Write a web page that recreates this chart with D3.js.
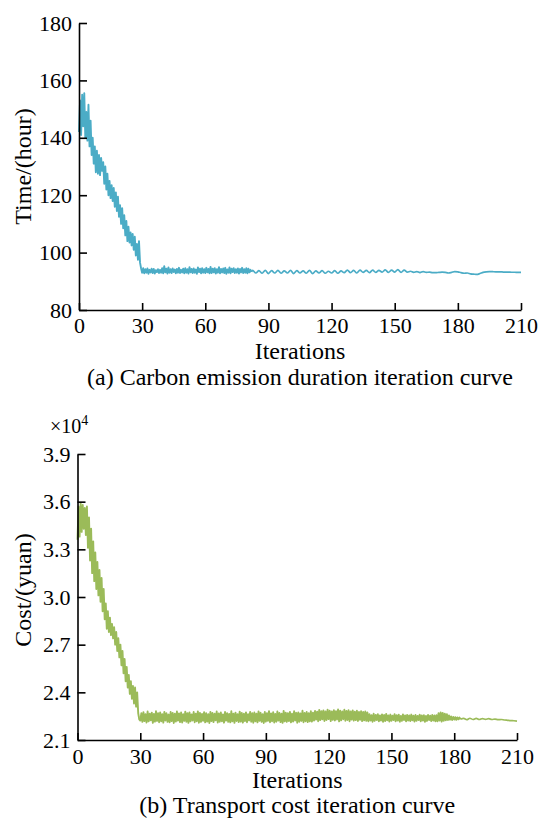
<!DOCTYPE html>
<html>
<head>
<meta charset="utf-8">
<script src="https://cdn.jsdelivr.net/npm/d3@7"></script>
<style>
  html, body { margin: 0; padding: 0; background: #fff; }
  svg { display: block; }
  text { font-family: "Liberation Serif", "Times New Roman", serif; fill: #000; }
</style>
</head>
<body>
<svg id="chart" width="541" height="822"></svg>
<script>
// ---------------- DATA ----------------
const xTicks = [0, 30, 60, 90, 120, 150, 180, 210];
const timeTicks = [80, 100, 120, 140, 160, 180];
const costTicks = [2.1, 2.4, 2.7, 3.0, 3.3, 3.6, 3.9];

// (a) time, hours. Noisy phase sampled every 0.5 iteration from 0 to 82
const timeNoisyStart = 0, timeNoisyStep = 0.5;
const timeNoisy = [
  142, 153, 141, 155, 144, 155.5, 140, 149, 139, 151.5,
  137, 146, 134, 140, 131, 137, 128, 135.5, 127.5, 134,
  127, 133, 128.5, 131.5, 124, 130, 122, 127.5, 120, 125,
  119, 123.5, 118, 122.5, 116, 121, 114.5, 119.5, 112.5, 116.5,
  110, 115.5, 108.5, 113, 106, 111, 104, 109, 103.5, 107,
  102.5, 106.5, 101, 105.5, 99, 103, 97.5, 104, 96.5, 94.5,
  93.0,
  94.6, 92.8, 94.2, 93.0, 94.5, 92.6, 94.0, 93.1, 94.4, 92.9,
  94.3, 92.7, 93.9, 93.2, 94.2, 92.9, 94.0, 93.0, 94.6, 92.8,
  95.3, 93.1, 94.4, 92.7, 94.8, 93.0, 94.2, 92.9, 94.5, 93.2,
  94.1, 92.8, 94.3, 93.0, 94.7, 92.9, 94.0, 93.1, 94.4, 92.8,
  94.6, 93.0, 94.2, 92.7, 94.9, 93.1, 94.3, 92.9, 94.5, 93.0,
  94.1, 92.6, 94.8, 93.2, 94.4, 92.8, 94.6, 93.0, 94.2, 92.9,
  94.7, 93.1, 94.3, 92.8, 95.0, 92.9, 94.4, 93.1, 94.6, 92.7,
  94.2, 93.0, 94.9, 92.8, 94.3, 93.1, 94.5, 92.9, 94.7, 92.6,
  94.1, 93.0, 94.8, 92.8, 94.4, 93.2, 94.6, 92.9, 94.2, 93.0,
  94.5, 92.7, 94.3, 93.1, 94.7, 92.9, 94.2, 93.0, 94.6, 92.8,
  94.4, 93.1, 94.0, 93.3
];
// (a) smoother oscillation phase, sampled every 1.5 iteration from 82.5 to 210
const timeWaveStart = 82.5, timeWaveStep = 1.5;
const timeWave = [
  93.8, 92.9, 93.7, 92.8, 93.8, 92.7, 93.7, 92.9, 93.8, 92.8,
  93.6, 92.9, 93.8, 92.7, 93.7, 92.9, 93.6, 92.8, 93.8, 92.7,
  93.6, 92.9, 93.7, 92.8, 93.5, 92.9, 93.7, 92.8, 93.6, 93.0,
  93.9, 93.0, 93.8, 92.9, 93.9, 93.1, 93.8, 93.0, 93.9, 93.1,
  93.8, 93.2, 94.0, 93.1, 93.9, 93.2, 94.1, 93.1, 93.9, 93.2,
  93.5, 93.1, 93.4, 93.0, 93.4, 93.1, 93.2, 93.0, 93.0, 93.1,
  93.2, 93.1, 92.9, 93.1, 93.4, 93.3, 93.0, 92.8, 92.9, 92.6,
  92.5, 92.4, 92.7, 93.1, 93.3, 93.4, 93.35, 93.3, 93.3, 93.25,
  93.2, 93.2, 93.15, 93.15, 93.1, 93.1
];

// (b) cost, x10^4 yuan. Noisy phase sampled every 0.5 iteration from 0 to 183
const costNoisyStart = 0, costNoisyStep = 0.5;
const costNoisy = [
  3.36, 3.57, 3.38, 3.59, 3.41, 3.58, 3.43, 3.56, 3.39, 3.57,
  3.31, 3.50, 3.23, 3.43, 3.15, 3.35, 3.10, 3.28, 3.05, 3.22,
  3.01, 3.17, 2.97, 3.12, 2.91, 3.05, 2.86, 2.96, 2.80, 2.91,
  2.78, 2.87, 2.76, 2.83, 2.74, 2.81, 2.70, 2.78, 2.66, 2.74,
  2.62, 2.70, 2.57, 2.66, 2.52, 2.61, 2.47, 2.56, 2.43, 2.51,
  2.39, 2.47, 2.36, 2.44, 2.33, 2.43, 2.31, 2.40, 2.27, 2.23,
  2.222,2.268, 2.214,2.275, 2.219,2.262, 2.210,2.279, 2.217,2.266, 2.224,2.272, 2.208,2.264, 2.215,2.281, 2.220,2.269, 2.212,2.274,
  2.218,2.263, 2.209,2.277, 2.223,2.268, 2.214,2.260, 2.211,2.276, 2.219,2.270, 2.207,2.265, 2.216,2.279, 2.222,2.267, 2.213,2.273,
  2.210,2.262, 2.220,2.278, 2.215,2.269, 2.208,2.274, 2.217,2.261, 2.223,2.276, 2.212,2.266, 2.218,2.280, 2.209,2.271, 2.214,2.264,
  2.221,2.275, 2.211,2.268, 2.216,2.262, 2.207,2.277, 2.219,2.270, 2.213,2.265, 2.224,2.279, 2.210,2.267, 2.215,2.273, 2.218,2.261,
  2.209,2.276, 2.222,2.269, 2.214,2.264, 2.211,2.281, 2.217,2.266, 2.208,2.272, 2.220,2.263, 2.213,2.278, 2.216,2.270, 2.210,2.265,
  2.219,2.274, 2.212,2.262, 2.223,2.277, 2.215,2.268, 2.209,2.273, 2.218,2.266, 2.211,2.280, 2.221,2.271, 2.214,2.263, 2.207,2.276,
  2.216,2.269, 2.220,2.282, 2.212,2.267, 2.218,2.275, 2.210,2.264, 2.215,2.279, 2.222,2.270, 2.213,2.266, 2.208,2.283, 2.217,2.272,
  2.214,2.268, 2.219,2.277, 2.211,2.265, 2.216,2.281, 2.223,2.271, 2.209,2.274, 2.215,2.267, 2.220,2.284, 2.212,2.270, 2.218,2.276,
  2.213,2.269, 2.217,2.281, 2.216,2.272,
  2.222,2.283, 2.228,2.278, 2.218,2.289, 2.225,2.281, 2.230,2.286, 2.220,2.279, 2.226,2.291, 2.232,2.284, 2.219,2.280, 2.227,2.288,
  2.223,2.282, 2.229,2.292, 2.217,2.285, 2.224,2.279, 2.231,2.290, 2.221,2.283, 2.226,2.287, 2.218,2.280, 2.228,2.286, 2.222,2.278,
  2.225,2.284, 2.220,2.277, 2.227,2.282, 2.219,2.276, 2.224,2.279, 2.221,2.274,
  2.218,2.262, 2.223,2.256, 2.215,2.265, 2.220,2.258, 2.225,2.263, 2.217,2.254, 2.222,2.261, 2.214,2.257, 2.219,2.264, 2.224,2.255,
  2.216,2.260, 2.221,2.253, 2.226,2.262, 2.218,2.256, 2.223,2.259, 2.215,2.252, 2.220,2.261, 2.225,2.255, 2.217,2.258, 2.222,2.254,
  2.219,2.260, 2.224,2.253, 2.216,2.257, 2.221,2.252, 2.226,2.259, 2.218,2.254, 2.223,2.256, 2.215,2.251, 2.220,2.258, 2.225,2.253,
  2.219,2.257, 2.222,2.254, 2.217,2.256,
  2.218,2.268, 2.222,2.274, 2.216,2.270, 2.221,2.266, 2.224,2.262, 2.226,2.254,
  2.228,2.248, 2.226,2.245, 2.229,2.244, 2.227,2.242, 2.230,2.241, 2.231
];
// (b) smoother tail, sampled every 1.5 iteration from 184.5 to 210
const costWaveStart = 184.5, costWaveStep = 1.5;
const costWave = [
  2.236, 2.228, 2.237, 2.229, 2.236, 2.229, 2.235, 2.230, 2.234, 2.229,
  2.232, 2.228, 2.229, 2.226, 2.224, 2.222, 2.221, 2.219
];

// ---------------- DRAW ----------------
const svg = d3.select("#chart");
const toPts = (arr, start, step) => arr.map((v, i) => ({ x: start + i * step, y: v }));

function panel(cfg) {
  const x = d3.scaleLinear().domain([0, 210]).range([cfg.left, cfg.right]);
  const y = d3.scaleLinear().domain(cfg.yDomain).range([cfg.bottom, cfg.top]);
  const g = svg.append("g");

  const noisy = toPts(cfg.noisy, cfg.noisyStart, cfg.noisyStep);
  const wave = [noisy[noisy.length - 1]].concat(toPts(cfg.wave, cfg.waveStart, cfg.waveStep));

  g.append("path").datum(noisy)
    .attr("fill", "none").attr("stroke", cfg.color).attr("stroke-width", 1.9)
    .attr("stroke-linejoin", "round")
    .attr("d", d3.line().x(d => x(d.x)).y(d => y(d.y)));
  g.append("path").datum(wave)
    .attr("fill", "none").attr("stroke", cfg.color).attr("stroke-width", 1.7)
    .attr("d", d3.line().curve(d3.curveMonotoneX).x(d => x(d.x)).y(d => y(d.y)));

  const xAxis = d3.axisBottom(x).tickValues(xTicks).tickFormat(d3.format("d"))
    .tickSizeInner(-7).tickSizeOuter(0).tickPadding(cfg.xPad);
  const yAxis = d3.axisLeft(y).tickValues(cfg.yTicks).tickFormat(cfg.yFormat)
    .tickSizeInner(-8).tickSizeOuter(0).tickPadding(7);

  const gx = g.append("g").attr("transform", `translate(0,${cfg.bottom})`).call(xAxis);
  const gy = g.append("g").attr("transform", `translate(${cfg.left},0)`).call(yAxis);
  [gx, gy].forEach(a => {
    a.selectAll("path,line").attr("stroke", "#000").attr("stroke-width", 1.6);
    a.selectAll("text").attr("font-size", 22).attr("font-family", '"Liberation Serif", "Times New Roman", serif').attr("fill", "#000");
  });

  g.append("text").attr("transform", `translate(${cfg.yLabelX},${cfg.yLabelY}) rotate(-90)`)
    .attr("text-anchor", "middle").attr("font-size", 24).text(cfg.yLabel);
  g.append("text").attr("x", (cfg.left + cfg.right) / 2).attr("y", cfg.xLabelY)
    .attr("text-anchor", "middle").attr("font-size", 24).text("Iterations");
  g.append("text").attr("x", (cfg.left + cfg.right) / 2).attr("y", cfg.captionY)
    .attr("text-anchor", "middle").attr("font-size", 24).text(cfg.caption);
  return g;
}

panel({
  left: 79, right: 521, top: 23, bottom: 310,
  yDomain: [80, 180], yTicks: timeTicks, yFormat: d3.format("d"),
  noisy: timeNoisy, noisyStart: timeNoisyStart, noisyStep: timeNoisyStep,
  wave: timeWave, waveStart: timeWaveStart, waveStep: timeWaveStep,
  color: "#4bacc6", xPad: 7,
  yLabel: "Time/(hour)", yLabelX: 31, yLabelY: 166.5,
  xLabelY: 359, captionY: 385,
  caption: "(a) Carbon emission duration iteration curve"
});

const gb = panel({
  left: 77.5, right: 517, top: 454, bottom: 740,
  yDomain: [2.1, 3.9], yTicks: costTicks, yFormat: d3.format(".1f"),
  noisy: costNoisy, noisyStart: costNoisyStart, noisyStep: costNoisyStep,
  wave: costWave, waveStart: costWaveStart, waveStep: costWaveStep,
  color: "#9bbb59", xPad: 8,
  yLabel: "Cost/(yuan)", yLabelX: 31, yLabelY: 590,
  xLabelY: 788, captionY: 813,
  caption: "(b) Transport cost iteration curve"
});

const mult = gb.append("text").attr("x", 50).attr("y", 433).attr("font-size", 20);
mult.append("tspan").text("×10");
mult.append("tspan").attr("font-size", 14).attr("dy", -8).text("4");
</script>
</body>
</html>
